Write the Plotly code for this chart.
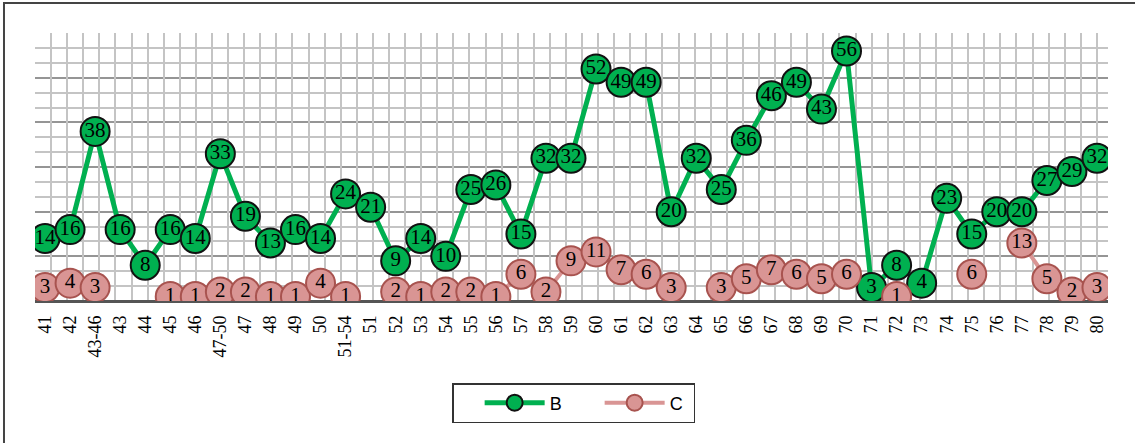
import plotly.graph_objects as go

# Categorías del eje X
categories = [
    "41", "42", "43-46", "43", "44", "45", "46", "47-50", "47", "48", "49", "50",
    "51-54", "51", "52", "53", "54", "55", "56", "57", "58", "59", "60", "61", "62",
    "63", "64", "65", "66", "67", "68", "69", "70", "71", "72", "73", "74", "75",
    "76", "77", "78", "79", "80",
]

series_b = [
    14, 16, 38, 16, 8, 16, 14, 33, 19, 13, 16, 14,
    24, 21, 9, 14, 10, 25, 26, 15, 32, 32, 52, 49, 49,
    20, 32, 25, 36, 46, 49, 43, 56, 3, 8, 4, 23, 15,
    20, 20, 27, 29, 32,
]

series_c = [
    3, 4, 3, None, None, 1, 1, 2, 2, 1, 1, 4,
    1, None, 2, 1, 2, 2, 1, 6, 2, 9, 11, 7, 6,
    3, None, 3, 5, 7, 6, 5, 6, None, 1, None, None, 6,
    None, 13, 5, 2, 3,
]

COLORS = {
    "b_line": "#00B050",
    "b_edge": "#111111",
    "c_fill": "#D99594",
    "c_edge": "#A8534F",
    "grid": "#C4C4C4",
    "grid_major": "#959595",
    "axis": "#555555",
}

SERIF = "Liberation Serif, Times New Roman, serif"


def label_text(values):
    return ["" if v is None else str(v) for v in values]


fig = go.Figure()

# traza vacía solo para que se dibuje la rejilla vertical del eje x2
fig.add_trace(go.Scatter(x=[], y=[], xaxis="x2", yaxis="y", showlegend=False, hoverinfo="skip"))

fig.add_trace(
    go.Scatter(
        x=categories,
        y=series_b,
        name="B",
        mode="lines+markers+text",
        text=label_text(series_b),
        textposition="middle center",
        textfont=dict(family=SERIF, size=21, color="black"),
        line=dict(color=COLORS["b_line"], width=5),
        marker=dict(size=29, color=COLORS["b_line"], line=dict(color=COLORS["b_edge"], width=2)),
    )
)
fig.add_trace(
    go.Scatter(
        x=categories,
        y=series_c,
        name="C",
        mode="lines+markers+text",
        text=label_text(series_c),
        textposition="middle center",
        textfont=dict(family=SERIF, size=21, color="black"),
        line=dict(color=COLORS["c_fill"], width=4),
        marker=dict(size=29, color=COLORS["c_fill"], line=dict(color=COLORS["c_edge"], width=2)),
        connectgaps=False,
    )
)

fig.update_layout(
    width=1135,
    height=443,
    margin=dict(l=35, r=27, t=33, b=142),
    paper_bgcolor="white",
    plot_bgcolor="white",
    showlegend=True,
    legend=dict(
        orientation="h",
        x=0.502,
        xanchor="center",
        y=-0.306,
        yanchor="top",
        bordercolor="#333333",
        borderwidth=1.5,
        font=dict(family="Liberation Sans, Arial, sans-serif", size=18, color="black"),
        itemwidth=60,
        entrywidth=19,
        indentation=26,
    ),
    xaxis=dict(
        type="category",
        range=[-0.4, 42.44],
        showgrid=False,
        tickangle=-90,
        tickfont=dict(family=SERIF, size=18, color="black"),
        ticklabelstandoff=10,
        ticks="",
        showline=False,
        zeroline=False,
    ),
    xaxis2=dict(
        overlaying="x",
        anchor="y",
        range=[0, 66.69],
        tick0=0,
        dtick=1,
        showgrid=True,
        gridcolor=COLORS["grid"],
        gridwidth=1.5,
        showticklabels=False,
        ticks="",
        zeroline=False,
    ),
    yaxis=dict(
        range=[0, 60.05],
        dtick=10,
        showgrid=True,
        gridcolor=COLORS["grid_major"],
        gridwidth=1.5,
        minor=dict(dtick=10 / 3, showgrid=True, gridcolor=COLORS["grid"], gridwidth=1.5),
        showticklabels=False,
        ticks="",
        zeroline=True,
        zerolinecolor=COLORS["axis"],
        zerolinewidth=3,
    ),
    shapes=[
        dict(
            type="rect",
            xref="paper",
            yref="paper",
            x0=-0.0289,
            x1=1.06,
            y0=-0.6,
            y1=1.112,
            line=dict(color="#444444", width=2),
            fillcolor="rgba(0,0,0,0)",
            layer="below",
        )
    ],
)

fig.write_html(
    "out.html",
    config={"displayModeBar": False},
    post_script="document.body.style.margin = '0';",
)
